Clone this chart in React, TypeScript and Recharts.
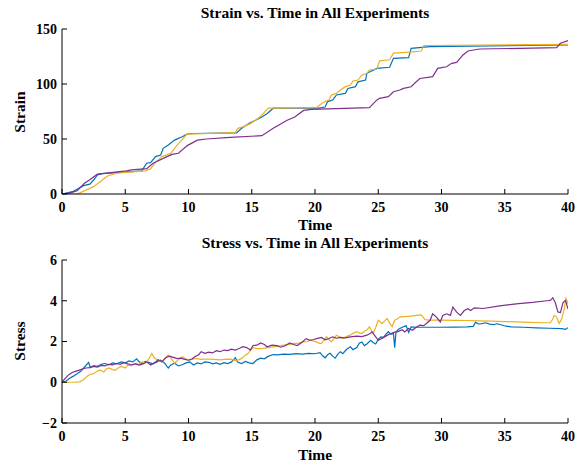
import { LineChart, Line, XAxis, YAxis } from "recharts";

const BLUE = "#0072BD";
const YELLOW = "#EDB120";
const PURPLE = "#7E2F8E";
const FONT = "'Liberation Serif', 'Times New Roman', serif";

const timeTicks = [0, 5, 10, 15, 20, 25, 30, 35, 40];
const strainTicks = [0, 50, 100, 150];
const stressTicks = [-2, 0, 2, 4, 6];

// strain vs time
const strainTimeBlue = [0, 0.9, 1.3, 1.7, 2.2, 2.5, 2.8, 3.2, 5.1, 6.3, 6.7, 7.0, 7.4, 7.8, 8.0, 8.4, 8.9, 9.5, 9.9, 10.3, 13.8, 14.2, 14.9, 15.3, 15.8, 16.2, 16.7, 20.3, 20.8, 21.0, 21.4, 21.7, 22.4, 22.6, 23.2, 23.4, 24.0, 24.1, 24.9, 25.9, 26.2, 27.4, 27.6, 29.1, 40];
const strainBlue = [0, 2.4, 5, 7.6, 9, 12.7, 17.3, 18.5, 20, 21, 28, 28.5, 34, 35.5, 41.5, 44.5, 49, 52, 54.5, 55, 55.5, 59.7, 65, 67, 70, 73, 78, 78, 79.1, 84, 85.5, 90, 91.5, 96, 97.6, 102, 103.6, 109.7, 114.2, 115.2, 123.3, 124, 132.4, 134, 135.5];

const strainTimeYellow = [0, 1.2, 2.5, 3.6, 4.3, 6.6, 7.0, 7.4, 7.9, 8.6, 9.1, 9.9, 13.7, 13.9, 14.3, 14.9, 15.5, 15.9, 16.3, 20.1, 20.6, 21.1, 21.3, 21.7, 22.0, 22.4, 22.8, 23.0, 23.4, 23.7, 24.1, 24.3, 24.9, 25.1, 25.9, 26.2, 27.5, 28.4, 28.6, 40];
const strainYellow = [0, 0, 6.7, 16.4, 19, 21, 23, 29, 34, 37, 44.5, 54.5, 55.8, 59.7, 61, 64, 68.8, 73, 78, 78.4, 83, 85.5, 90, 91.5, 94.5, 97.6, 99, 102.7, 103.6, 108, 109.7, 112.7, 113.6, 121, 122, 128, 129, 130, 135, 136];

const strainTimePurple = [0, 0.66, 1.2, 1.8, 2.2, 2.8, 5.1, 5.5, 6.7, 7.2, 8.3, 8.7, 9.2, 9.9, 10.7, 11.4, 13.3, 15.8, 16.7, 17.8, 18.4, 19.1, 19.7, 24.3, 24.9, 25.1, 25.8, 26.2, 26.7, 27.0, 27.6, 28.0, 28.3, 29.3, 29.7, 30.4, 30.8, 31.2, 31.7, 32.1, 33.0, 39.1, 39.4, 40];
const strainPurple = [0, 1, 3, 10, 13, 18, 21, 22, 23, 28, 34, 36, 37, 44, 49, 50, 51.5, 53, 59.7, 67, 70, 76, 77, 78.5, 85.5, 87, 88.5, 93, 94.5, 96, 97.5, 102, 105, 106.7, 114.2, 115.7, 118.8, 119.7, 126.4, 130, 131.8, 133, 137, 139.5];

// stress vs time
const stressTimeBlue = [0, 0.3, 0.6, 0.9, 1.2, 1.5, 1.8, 2.0, 2.1, 2.25, 2.5, 2.8, 3.1, 3.4, 3.7, 4.0, 4.3, 4.7, 5.0, 5.3, 5.6, 5.9, 6.1, 6.3, 6.6, 6.9, 7.2, 7.5, 7.8, 8.1, 8.4, 8.6, 8.9, 9.2, 9.5, 9.8, 10.1, 10.4, 10.7, 11.0, 11.3, 11.6, 11.9, 12.2, 12.5, 12.8, 13.1, 13.4, 13.7, 13.9, 14.2, 14.5, 14.8, 15.1, 15.4, 15.7, 16.0, 16.3, 16.7, 17.0, 17.5, 18.0, 18.5, 19.0, 19.5, 20.0, 20.4, 20.6, 20.8, 21.0, 21.2, 21.4, 21.6, 21.8, 22.0, 22.2, 22.5, 22.8, 23.0, 23.3, 23.5, 23.7, 23.9, 24.1, 24.4, 24.6, 24.8, 25.0, 25.2, 25.4, 25.6, 25.8, 26.0, 26.2, 26.3, 26.4, 26.6, 26.9, 27.2, 27.4, 27.6, 28.0, 29, 30, 31, 32, 32.5, 32.7, 32.9, 33.2, 33.5, 33.8, 34.1, 34.4, 34.7, 35.1, 35.5, 36.5, 37.5, 38.5, 39.5, 39.8, 40];
const stressBlue = [0, 0.05, 0.2, 0.3, 0.42, 0.55, 0.76, 0.9, 0.97, 0.72, 0.82, 0.78, 0.88, 0.92, 0.85, 0.95, 0.9, 1.0, 0.95, 1.05, 1.0, 1.15, 1.0, 0.92, 1.02, 0.96, 0.9, 1.0, 1.08, 0.95, 0.7, 0.85, 0.93, 0.8, 0.86, 0.95, 1.0, 0.85, 0.95, 0.9, 1.0, 0.98, 0.9, 0.95, 0.88, 0.96, 0.92, 1.0, 1.2, 0.98, 0.92, 1.02, 0.95, 0.92, 1.1, 1.18, 1.15, 1.27, 1.36, 1.34, 1.38, 1.37, 1.4, 1.38, 1.42, 1.4, 1.45, 1.3, 1.2, 1.35, 1.42, 1.28, 1.18, 1.38, 1.5, 1.4, 1.62, 1.74, 1.6, 1.7, 1.92, 1.98, 1.8, 1.88, 2.06, 1.95, 1.88, 2.1, 2.23, 2.2, 2.35, 2.48, 2.35, 2.4, 1.7, 2.45, 2.6, 2.7, 2.78, 2.45, 2.72, 2.7, 2.7, 2.7, 2.71, 2.72, 2.74, 2.95, 2.86, 2.88, 2.92, 2.85, 2.83, 2.87, 2.82, 2.75, 2.72, 2.7, 2.67, 2.65, 2.63, 2.6, 2.68];

const stressTimeYellow = [0, 0.5, 1.0, 1.4, 1.7, 2.0, 2.2, 2.5, 2.8, 3.0, 3.3, 3.5, 3.7, 4.0, 4.2, 4.5, 4.7, 5.0, 5.2, 5.5, 5.8, 6.1, 6.3, 6.6, 6.8, 7.0, 7.1, 7.3, 7.5, 7.7, 7.9, 8.1, 8.4, 8.6, 8.9, 9.1, 9.5, 9.8, 10.0, 10.3, 10.5, 11.0, 11.5, 12.0, 12.5, 13.0, 13.4, 13.8, 14.2, 14.5, 14.7, 14.9, 15.1, 15.3, 15.6, 15.9, 16.3, 16.7, 17.1, 17.5, 17.9, 18.3, 18.7, 19.1, 19.4, 19.6, 19.9, 20.1, 20.3, 20.5, 20.7, 20.9, 21.1, 21.3, 21.5, 21.7, 22.0, 22.2, 22.5, 22.8, 23.0, 23.3, 23.5, 23.7, 23.9, 24.1, 24.3, 24.5, 24.6, 24.8, 25.0, 25.2, 25.3, 25.5, 25.7, 25.9, 26.1, 26.3, 26.5, 26.7, 27.0, 27.3, 27.6, 28.0, 28.4, 28.7, 29.0, 30.0, 31.0, 32.0, 33.0, 34.0, 35.0, 36.0, 37.0, 38.0, 38.6, 38.8, 38.9, 39.1, 39.3, 39.5, 39.7, 39.85, 40];
const stressYellow = [0, 0, 0, 0.02, 0.12, 0.3, 0.38, 0.42, 0.55, 0.6, 0.5, 0.65, 0.7, 0.62, 0.58, 0.72, 0.78, 0.7, 0.84, 0.8, 0.93, 0.88, 1.0, 0.95, 1.09, 1.3, 1.41, 1.2, 1.1, 1.05, 1.0, 1.15, 1.33, 1.2, 0.93, 1.05, 1.25, 1.15, 1.09, 1.12, 1.17, 1.12, 1.14, 1.12, 1.1, 1.13, 1.12, 1.05, 1.17, 1.33, 1.41, 1.58, 1.7, 1.66, 1.65, 1.66, 1.7, 1.74, 1.76, 1.82, 1.85, 1.9, 1.92, 1.98, 2.0, 2.06, 2.02, 1.98, 1.92, 1.9, 2.05, 2.23, 2.1, 1.98, 2.15, 2.31, 2.2, 2.14, 2.25, 2.31, 2.4, 2.48, 2.42, 2.39, 2.5, 2.56, 2.72, 2.5, 2.39, 2.7, 3.04, 2.95, 2.88, 3.0, 3.13, 2.9, 2.72, 3.04, 3.1, 3.2, 3.22, 3.23, 3.25, 3.28, 3.31, 3.07, 3.05, 3.05, 3.04, 3.03, 3.01, 3.0, 2.98, 2.96, 2.94, 2.92, 2.92, 3.1, 3.28, 3.2, 2.88, 3.1, 3.6, 4.12, 3.85];

const stressTimePurple = [0, 0.2, 0.5, 0.8, 1.0, 1.3, 1.6, 1.9, 2.2, 2.5, 2.8, 3.1, 3.4, 3.7, 4.0, 4.3, 4.6, 4.9, 5.2, 5.5, 5.8, 6.1, 6.4, 6.7, 7.0, 7.3, 7.6, 7.9, 8.2, 8.5, 8.8, 9.1, 9.4, 9.7, 10.0, 10.3, 10.5, 10.8, 11.0, 11.3, 11.6, 11.9, 12.2, 12.5, 12.8, 13.1, 13.4, 13.7, 14.0, 14.3, 14.6, 14.9, 15.1, 15.4, 15.7, 16.0, 16.2, 16.6, 17.0, 17.3, 17.6, 18.0, 18.3, 18.6, 19.0, 19.3, 19.6, 19.9, 20.2, 20.5, 20.8, 21.1, 21.4, 21.7, 22.0, 22.4, 22.8, 23.3, 23.7, 24.1, 24.4, 24.5, 24.8, 25.0, 25.2, 25.4, 25.7, 26.0, 26.3, 26.6, 26.9, 27.1, 27.4, 27.7, 28.0, 28.3, 28.6, 28.8, 29.1, 29.3, 29.6, 29.9, 30.1, 30.4, 30.7, 30.9, 31.2, 31.5, 31.8, 32.1, 32.3, 32.6, 33.3, 34.6, 35.9, 37.2, 38.3, 38.6, 38.8, 39.0, 39.2, 39.4, 39.6, 39.8, 40];
const stressPurple = [0, 0.15, 0.35, 0.48, 0.52, 0.58, 0.65, 0.7, 0.72, 0.78, 0.74, 0.82, 0.8, 0.88, 0.85, 0.92, 0.88, 0.96, 0.9, 0.86, 0.9, 0.84, 0.9, 1.0, 0.85, 0.95, 1.1, 1.0, 1.2, 1.28, 1.22, 1.16, 1.18, 1.12, 1.08, 1.15, 1.25, 1.35, 1.5, 1.42, 1.48, 1.44, 1.55, 1.5, 1.58, 1.55, 1.62, 1.58, 1.66, 1.75, 1.7, 1.58, 1.8, 1.82, 1.93, 1.85, 1.74, 1.82, 1.8, 1.72, 1.78, 1.93, 1.85, 1.8, 1.98, 2.14, 2.06, 2.1, 2.15, 2.2, 2.08, 2.15, 2.23, 2.16, 2.2, 2.18, 2.23, 2.26, 2.24, 2.31, 2.4, 2.48, 2.23, 2.06, 2.12, 2.19, 2.3, 2.39, 2.46, 2.5, 2.58, 2.47, 2.64, 2.55, 2.7, 2.8, 2.78, 2.88, 3.04, 3.36, 3.2, 2.96, 3.28, 3.36, 3.28, 3.69, 3.44, 3.28, 3.52, 3.61, 3.52, 3.65, 3.62, 3.75, 3.85, 3.92, 4.0, 4.02, 4.15, 3.9, 3.45, 3.42, 3.9, 4.02, 3.6];

const pairs = (ts: number[], vs: number[]) => ts.map((t, i) => ({ t, v: vs[i] }));

const tickStyle = { fontFamily: FONT, fontWeight: "bold" as const, fontSize: 14, fill: "#000" };
const fmt = (v: number) => (v < 0 ? "\u2212" + Math.abs(v) : String(v));

function Panel({
  series,
  yDomain,
  yTicks,
  height,
}: {
  series: { data: { t: number; v: number }[]; color: string }[];
  yDomain: [number, number];
  yTicks: number[];
  height: number;
}) {
  return (
    <LineChart width={582} height={height} margin={{ top: 29, right: 14, bottom: 0, left: 0 }}>
      <XAxis
        dataKey="t"
        type="number"
        domain={[0, 40]}
        ticks={timeTicks}
        allowDataOverflow
        height={38}
        tickSize={-5}
        tickMargin={13}
        tick={tickStyle}
        axisLine={{ stroke: "#000" }}
        tickLine={{ stroke: "#000" }}
      />
      <YAxis
        dataKey="v"
        type="number"
        domain={yDomain}
        ticks={yTicks}
        allowDataOverflow
        width={62}
        tickSize={-5}
        tickMargin={10}
        tick={tickStyle}
        tickFormatter={fmt}
        axisLine={{ stroke: "#000" }}
        tickLine={{ stroke: "#000" }}
      />
      {series.map((s, i) => (
        <Line
          key={i}
          data={s.data}
          dataKey="v"
          type="linear"
          stroke={s.color}
          strokeWidth={1.2}
          dot={false}
          activeDot={false}
          isAnimationActive={false}
        />
      ))}
    </LineChart>
  );
}

const labelStyle = { fontFamily: FONT, fontWeight: "bold" as const, fontSize: 15.5, fill: "#000" };

export default function App() {
  return (
    <div style={{ position: "absolute", left: 0, top: 0, width: 582, height: 465, background: "#fff" }}>
      <div style={{ position: "absolute", left: 0, top: 0 }}>
        <Panel
          height={232}
          yDomain={[0, 150]}
          yTicks={strainTicks}
          series={[
            { data: pairs(strainTimeBlue, strainBlue), color: BLUE },
            { data: pairs(strainTimeYellow, strainYellow), color: YELLOW },
            { data: pairs(strainTimePurple, strainPurple), color: PURPLE },
          ]}
        />
      </div>
      <div style={{ position: "absolute", left: 0, top: 231 }}>
        <Panel
          height={230}
          yDomain={[-2, 6]}
          yTicks={stressTicks}
          series={[
            { data: pairs(stressTimeBlue, stressBlue), color: BLUE },
            { data: pairs(stressTimeYellow, stressYellow), color: YELLOW },
            { data: pairs(stressTimePurple, stressPurple), color: PURPLE },
          ]}
        />
      </div>
      <svg width={582} height={465} style={{ position: "absolute", left: 0, top: 0, pointerEvents: "none" }}>
        <text x={315} y={18} textAnchor="middle" {...labelStyle}>Strain vs. Time in All Experiments</text>
        <text x={315} y={230} textAnchor="middle" {...labelStyle}>Time</text>
        <text x={25} y={112} textAnchor="middle" transform="rotate(-90, 25, 112)" {...labelStyle}>Strain</text>
        <text x={315} y={248} textAnchor="middle" {...labelStyle}>Stress vs. Time in All Experiments</text>
        <text x={315} y={460} textAnchor="middle" {...labelStyle}>Time</text>
        <text x={25} y={341} textAnchor="middle" transform="rotate(-90, 25, 341)" {...labelStyle}>Stress</text>
      </svg>
    </div>
  );
}
